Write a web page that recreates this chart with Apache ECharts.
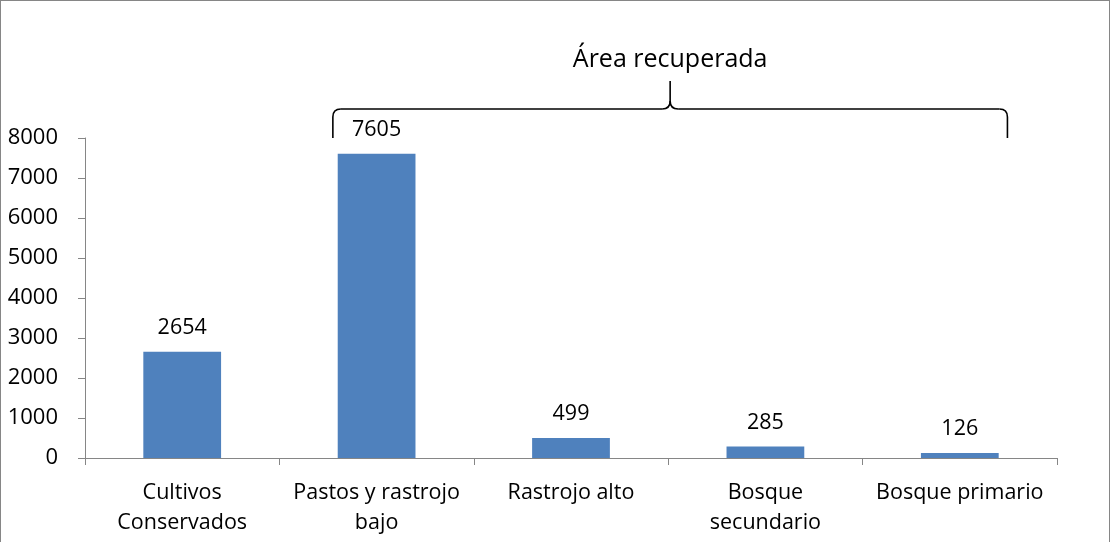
<!DOCTYPE html>
<html>
<head>
<meta charset="utf-8">
<script src="https://cdn.jsdelivr.net/npm/echarts@6/dist/echarts.min.js"></script>
<style>
  html, body { margin: 0; padding: 0; background: #fff; }
  #chart {
    width: 1110px; height: 542px; box-sizing: border-box;
    border-left: 1px solid #868686; border-top: 1px solid #868686; border-right: 1px solid #868686;
  }
</style>
</head>
<body>
<div id="chart"></div>
<script>
// categorias y valores (hectareas)
var categories = ["Cultivos\nConservados", "Pastos y rastrojo\nbajo", "Rastrojo alto", "Bosque\nsecundario", "Bosque primario"];
var values = [2654, 7605, 499, 285, 126];
var yTicks = [0, 1000, 2000, 3000, 4000, 5000, 6000, 7000, 8000];
var braceTitle = "Área recuperada";

var font = "'Open Sans', sans-serif";
var chart = echarts.init(document.getElementById("chart"));

chart.setOption({
  backgroundColor: "#fff",
  animation: false,
  textStyle: { fontFamily: font },
  grid: { left: 84, right: 52, top: 137, bottom: 84 },
  xAxis: {
    type: "category",
    data: categories,
    axisLine: { lineStyle: { color: "#868686", width: 1 } },
    axisTick: { show: true, length: 7, lineStyle: { color: "#868686" } },
    axisLabel: {
      color: "#000", fontSize: 21.5, fontFamily: font,
      margin: 20, lineHeight: 30, interval: 0
    }
  },
  yAxis: {
    type: "value",
    min: yTicks[0],
    max: yTicks[yTicks.length - 1],
    interval: 1000,
    splitLine: { show: false },
    axisLine: { show: true, lineStyle: { color: "#868686", width: 1 } },
    axisTick: { show: true, length: 7, lineStyle: { color: "#868686" } },
    axisLabel: {
      color: "#000", fontSize: 22, fontFamily: font, margin: 27,
      formatter: function (v) { return String(v); }
    }
  },
  series: [{
    type: "bar",
    data: values,
    barWidth: "40%",
    itemStyle: { color: "#4F81BD" },
    label: {
      show: true, position: "top", distance: 13,
      color: "#000", fontSize: 21.5, fontFamily: font
    }
  }]
});

// llave "Área recuperada" sobre las categorias 2 a 5
function drawBrace() {
  var c1 = chart.convertToPixel({ xAxisIndex: 0 }, 1);
  var c4 = chart.convertToPixel({ xAxisIndex: 0 }, 4);
  var step = chart.convertToPixel({ xAxisIndex: 0 }, 2) - c1;
  var x0 = c1 - step * 0.225;
  var x1 = c4 + step * 0.245;
  var yEnd = chart.convertToPixel({ yAxisIndex: 0 }, 8000);
  var yLine = yEnd - 29;
  var xm = (x0 + x1) / 2;
  var r = 8;
  var st = { fill: null, stroke: "#000", lineWidth: 1.6 };
  var seg = function (a, b, c, d) {
    return { type: "line", silent: true, shape: { x1: a, y1: b, x2: c, y2: d }, style: st };
  };
  var crv = function (a, b, cx, cy, c, d) {
    return { type: "bezierCurve", silent: true, shape: { x1: a, y1: b, cpx1: cx, cpy1: cy, x2: c, y2: d }, style: st };
  };
  chart.setOption({
    graphic: [
      seg(x0, yEnd, x0, yLine + r),
      crv(x0, yLine + r, x0, yLine, x0 + r, yLine),
      seg(x0 + r, yLine, xm - r, yLine),
      crv(xm - r, yLine, xm, yLine, xm, yLine - r),
      seg(xm, yLine - r, xm, yLine - 28),
      crv(xm, yLine - r, xm, yLine, xm + r, yLine),
      seg(xm + r, yLine, x1 - r, yLine),
      crv(x1 - r, yLine, x1, yLine, x1, yLine + r),
      seg(x1, yLine + r, x1, yEnd),
      {
        type: "text", silent: true,
        x: xm, y: yLine - 49,
        style: {
          text: braceTitle, fill: "#000", fontSize: 25, fontFamily: font,
          align: "center", verticalAlign: "middle"
        }
      }
    ]
  });
}
drawBrace();
</script>
</body>
</html>
